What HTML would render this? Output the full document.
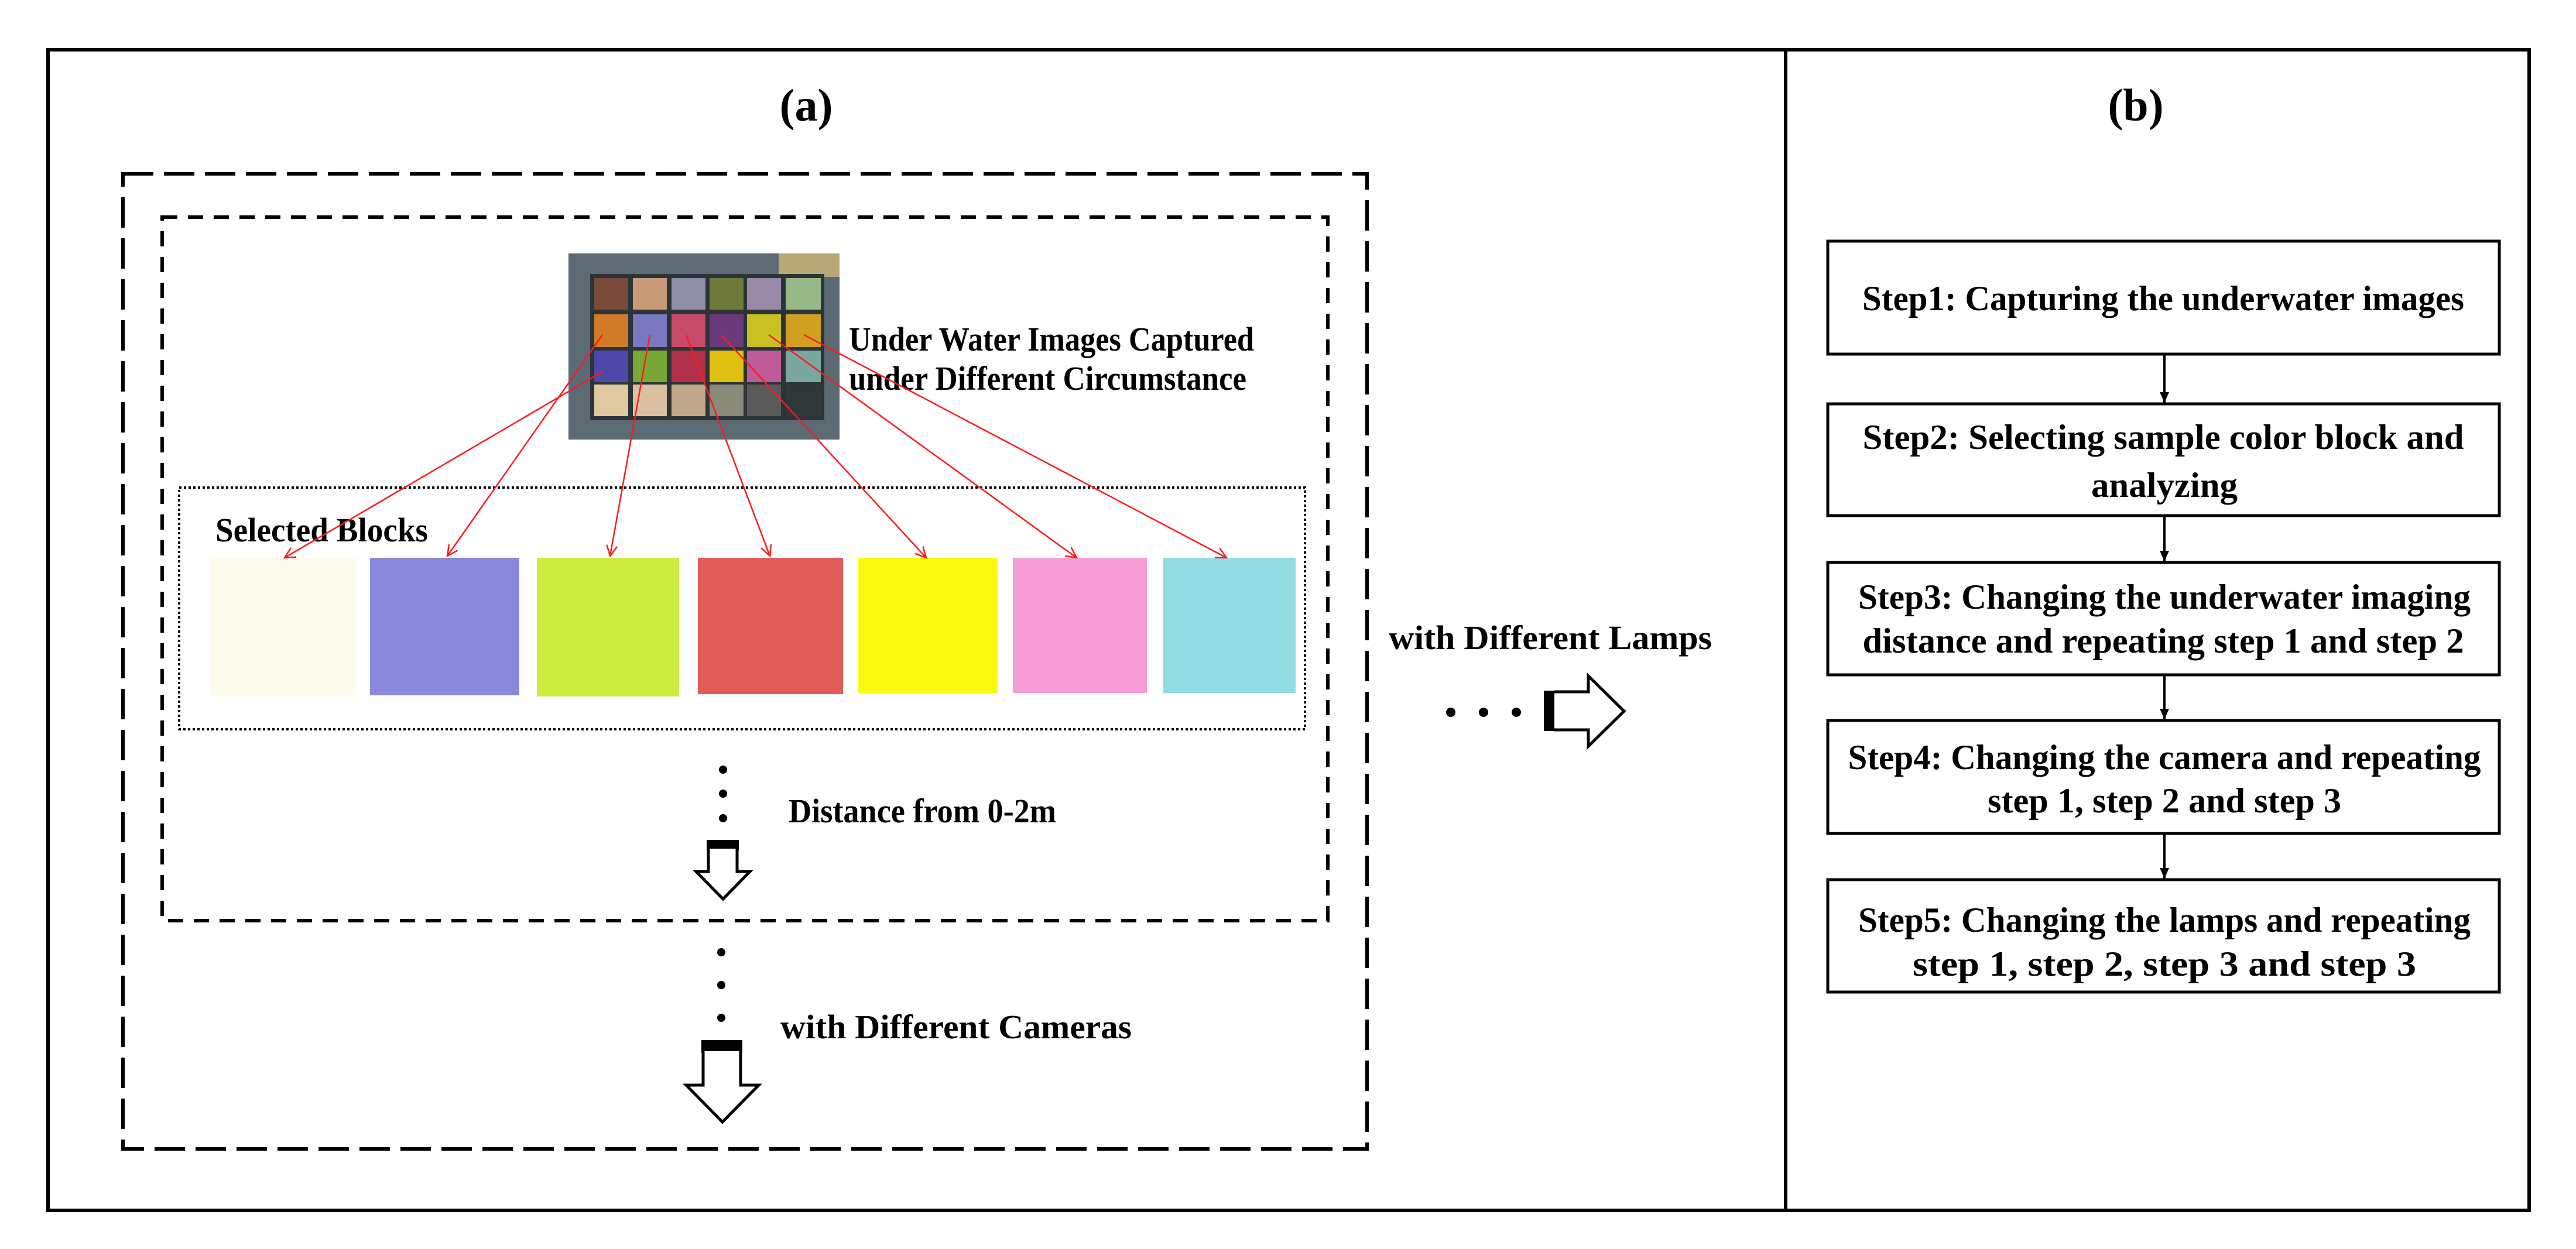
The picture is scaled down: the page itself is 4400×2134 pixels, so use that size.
<!DOCTYPE html>
<html><head><meta charset="utf-8"><style>
html,body{margin:0;padding:0;background:#fff;}
svg{display:block;}
text{font-family:"Liberation Serif",serif;font-weight:bold;fill:#000;}
</style></head><body>
<svg width="4400" height="2134" viewBox="0 0 4400 2134" xmlns="http://www.w3.org/2000/svg">
<defs>
<marker id="ra" markerWidth="24" markerHeight="24" refX="20" refY="12" orient="auto" markerUnits="userSpaceOnUse">
<path d="M2,3 L20,12 L2,21" fill="none" stroke="#ff1a1a" stroke-width="2.5"/>
</marker>
<marker id="ba" markerWidth="22" markerHeight="22" refX="18" refY="11" orient="auto" markerUnits="userSpaceOnUse">
<path d="M0,3 L18,11 L0,19 Z" fill="#000"/>
</marker>
</defs>
<rect width="4400" height="2134" fill="#fff"/>
<rect x="82" y="85" width="4238" height="1983" fill="none" stroke="#000" stroke-width="6"/>
<line x1="3050" y1="85" x2="3050" y2="2068" stroke="#000" stroke-width="6"/>
<text x="1377" y="206" font-size="78" text-anchor="middle">(a)</text>
<text x="3648" y="206" font-size="78" text-anchor="middle">(b)</text>

<rect x="210" y="297" width="2125" height="1666" fill="none" stroke="#000" stroke-width="6" stroke-dasharray="52 18"/>
<rect x="277" y="371" width="1991" height="1202" fill="none" stroke="#000" stroke-width="6" stroke-dasharray="26 18"/>
<rect x="306" y="833" width="1923" height="413" fill="none" stroke="#000" stroke-width="4" stroke-dasharray="4 4"/>

<rect x="971" y="433" width="463" height="318" fill="#5c6a74"/>
<rect x="1330" y="433" width="104" height="40" fill="#b8a878"/>
<rect x="1008" y="468" width="400" height="250" fill="#2c3438"/>
<g>
<rect x="1015" y="475" width="58" height="54" fill="#7a4a3a"/>
<rect x="1081" y="475" width="58" height="54" fill="#c89a78"/>
<rect x="1147" y="475" width="58" height="54" fill="#8f8fa8"/>
<rect x="1212" y="475" width="58" height="54" fill="#6f7a3a"/>
<rect x="1276" y="475" width="58" height="54" fill="#9a8aa8"/>
<rect x="1342" y="475" width="60" height="54" fill="#98b888"/>
<rect x="1015" y="537" width="58" height="56" fill="#d07a2a"/>
<rect x="1081" y="537" width="58" height="56" fill="#7a78c0"/>
<rect x="1147" y="537" width="58" height="56" fill="#c84a6a"/>
<rect x="1212" y="537" width="58" height="56" fill="#6a3a7a"/>
<rect x="1276" y="537" width="58" height="56" fill="#c8c020"/>
<rect x="1342" y="537" width="60" height="56" fill="#d0a020"/>
<rect x="1015" y="599" width="58" height="54" fill="#5048a8"/>
<rect x="1081" y="599" width="58" height="54" fill="#78a838"/>
<rect x="1147" y="599" width="58" height="54" fill="#b03048"/>
<rect x="1212" y="599" width="58" height="54" fill="#e0c010"/>
<rect x="1276" y="599" width="58" height="54" fill="#c05a98"/>
<rect x="1342" y="599" width="60" height="54" fill="#78a8a0"/>
<rect x="1015" y="657" width="58" height="54" fill="#e0c8a0"/>
<rect x="1081" y="657" width="58" height="54" fill="#d8c0a0"/>
<rect x="1147" y="657" width="58" height="54" fill="#c0a888"/>
<rect x="1212" y="657" width="58" height="54" fill="#8a8a78"/>
<rect x="1276" y="657" width="58" height="54" fill="#5a5a58"/>
<rect x="1342" y="657" width="60" height="54" fill="#303838"/>
</g>

<text x="1450" y="599" font-size="58" textLength="692" lengthAdjust="spacingAndGlyphs">Under Water Images Captured</text>
<text x="1450" y="666" font-size="58" textLength="679" lengthAdjust="spacingAndGlyphs">under Different Circumstance</text>

<rect x="360" y="953" width="248" height="235" fill="#fdfbec"/>
<rect x="632" y="953" width="255" height="235" fill="#8a88dc"/>
<rect x="917" y="953" width="243" height="237" fill="#cdec40"/>
<rect x="1192" y="953" width="248" height="233" fill="#e25c5a"/>
<rect x="1466" y="953" width="238" height="231" fill="#fafa10"/>
<rect x="1730" y="953" width="229" height="231" fill="#f59ed6"/>
<rect x="1987" y="953" width="226" height="231" fill="#92dce4"/>
<text x="368" y="925" font-size="58" textLength="363" lengthAdjust="spacingAndGlyphs">Selected Blocks</text>

<g stroke="#ff1a1a" stroke-width="2.5" fill="none" marker-end="url(#ra)">
<line x1="1029" y1="572" x2="764" y2="950"/>
<line x1="1029" y1="635" x2="486" y2="953"/>
<line x1="1110" y1="572" x2="1042" y2="950"/>
<line x1="1172" y1="572" x2="1315" y2="950"/>
<line x1="1232" y1="572" x2="1582" y2="953"/>
<line x1="1313" y1="572" x2="1839" y2="953"/>
<line x1="1373" y1="572" x2="2095" y2="953"/>
</g>

<circle cx="1235" cy="1315" r="7"/><circle cx="1235" cy="1356" r="7"/><circle cx="1235" cy="1398" r="7"/>
<text x="1347" y="1405" font-size="58" textLength="457" lengthAdjust="spacingAndGlyphs">Distance from 0-2m</text>
<rect x="1207" y="1435" width="55" height="18" fill="#000"/>
<path d="M1210,1450 L1210,1489 L1189,1489 L1235,1536 L1281,1489 L1259,1489 L1259,1450" fill="#fff" stroke="#000" stroke-width="5"/>

<circle cx="1232" cy="1627" r="7"/><circle cx="1232" cy="1683" r="7"/><circle cx="1232" cy="1739" r="7"/>
<text x="1333" y="1774" font-size="58" textLength="600" lengthAdjust="spacingAndGlyphs">with Different Cameras</text>
<rect x="1198" y="1777" width="70" height="22" fill="#000"/>
<path d="M1201,1796 L1201,1854 L1172,1854 L1234,1917 L1296,1854 L1265,1854 L1265,1796" fill="#fff" stroke="#000" stroke-width="5"/>

<text x="2372" y="1109" font-size="58" textLength="552" lengthAdjust="spacingAndGlyphs">with Different Lamps</text>
<circle cx="2478" cy="1217" r="8"/><circle cx="2534" cy="1217" r="8"/><circle cx="2590" cy="1217" r="8"/>
<rect x="2637" y="1180" width="22" height="69" fill="#000"/>
<path d="M2655,1182 L2713,1182 L2713,1155 L2774,1215 L2713,1275 L2713,1247 L2655,1247" fill="#fff" stroke="#000" stroke-width="5"/>

<g fill="#fff" stroke="#000" stroke-width="5">
<rect x="3122" y="412" width="1147" height="193"/>
<rect x="3122" y="690" width="1147" height="191"/>
<rect x="3122" y="961" width="1147" height="192"/>
<rect x="3122" y="1231" width="1147" height="193"/>
<rect x="3122" y="1503" width="1147" height="192"/>
</g>
<g stroke="#000" stroke-width="4" marker-end="url(#ba)">
<line x1="3697" y1="605" x2="3697" y2="688"/>
<line x1="3697" y1="881" x2="3697" y2="959"/>
<line x1="3697" y1="1153" x2="3697" y2="1229"/>
<line x1="3697" y1="1424" x2="3697" y2="1501"/>
</g>
<g font-size="60" text-anchor="middle">
<text x="3695" y="530" textLength="1028" lengthAdjust="spacingAndGlyphs">Step1: Capturing the underwater images</text>
<text x="3695" y="767" textLength="1027" lengthAdjust="spacingAndGlyphs">Step2: Selecting sample color block and</text>
<text x="3697" y="849" textLength="250" lengthAdjust="spacingAndGlyphs">analyzing</text>
<text x="3697" y="1040" textLength="1046" lengthAdjust="spacingAndGlyphs">Step3: Changing the underwater imaging</text>
<text x="3695" y="1115" textLength="1027" lengthAdjust="spacingAndGlyphs">distance and repeating  step 1 and step 2</text>
<text x="3697" y="1314" textLength="1081" lengthAdjust="spacingAndGlyphs">Step4: Changing the camera and repeating</text>
<text x="3697" y="1388" textLength="604" lengthAdjust="spacingAndGlyphs">step 1, step 2 and step 3</text>
<text x="3697" y="1592" textLength="1046" lengthAdjust="spacingAndGlyphs">Step5: Changing the lamps and repeating</text>
<text x="3697" y="1667" textLength="860" lengthAdjust="spacingAndGlyphs">step 1, step 2, step 3 and step 3</text>
</g>
</svg>
</body></html>
